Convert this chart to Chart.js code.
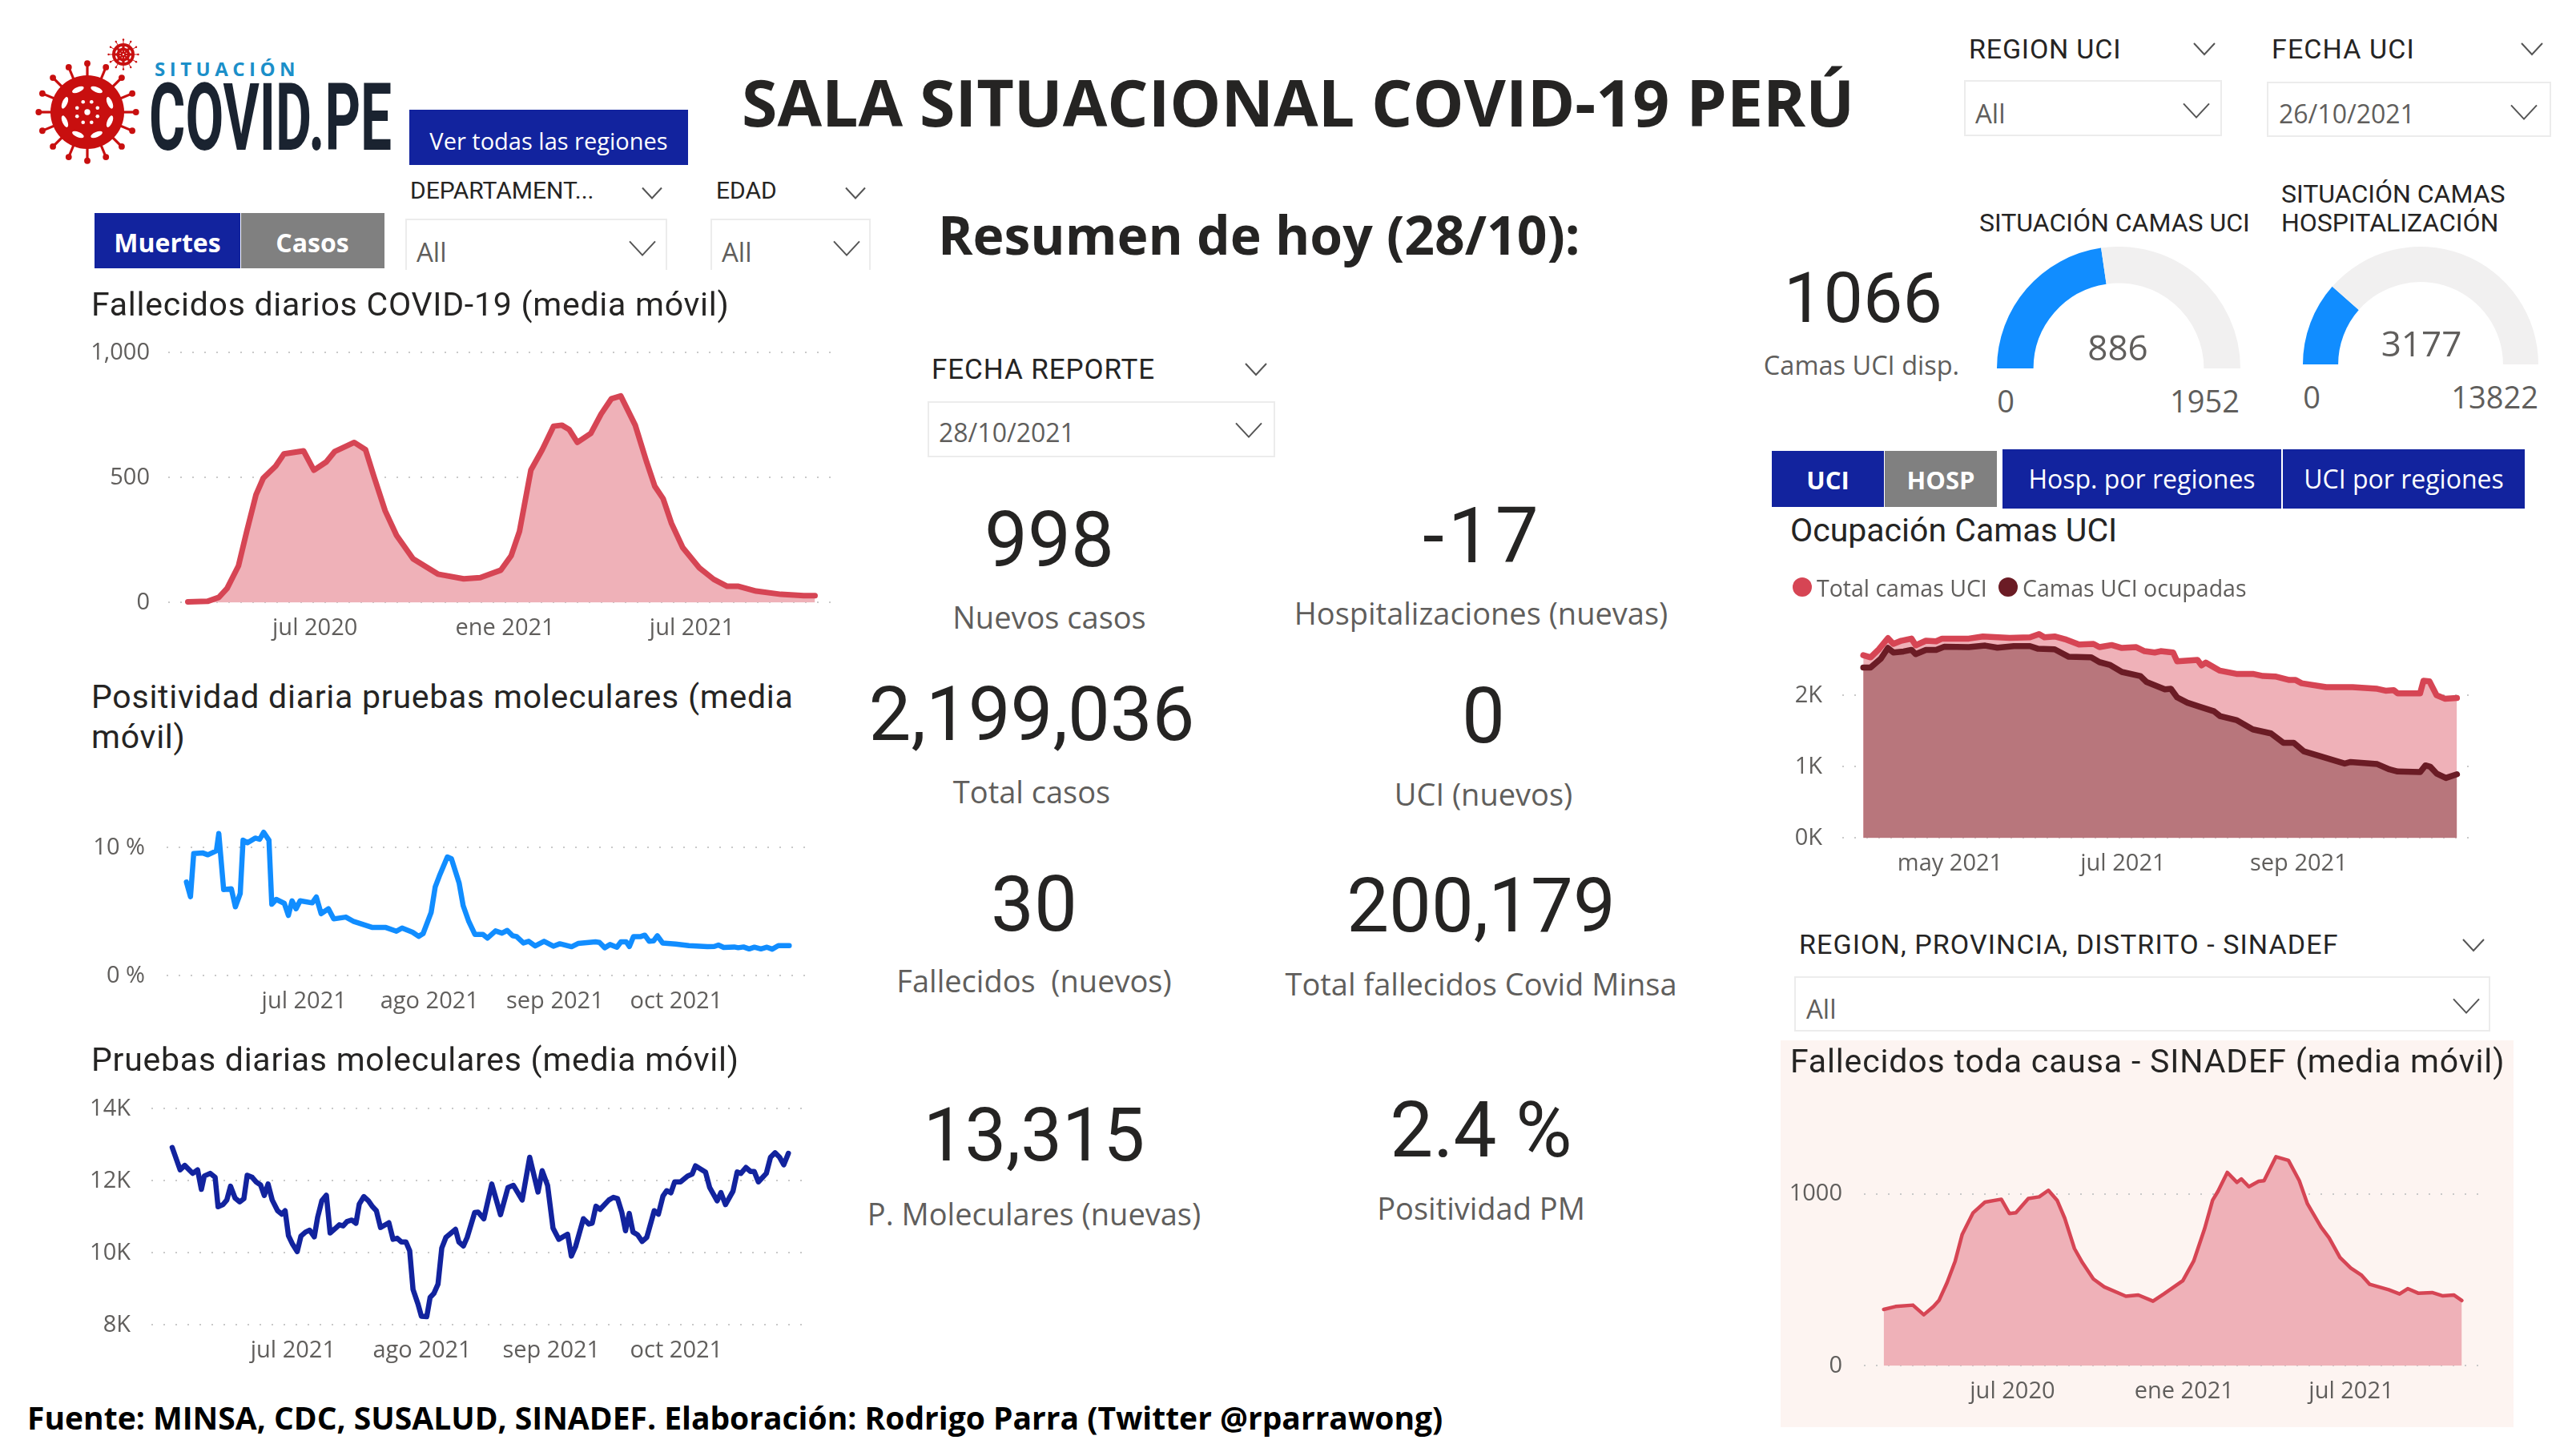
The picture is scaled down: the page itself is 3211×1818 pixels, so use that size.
<!DOCTYPE html>
<html lang="es">
<head>
<meta charset="utf-8">
<title>Sala situacional COVID-19 Perú</title>
<script src="https://cdn.jsdelivr.net/npm/chart.js@4/dist/chart.umd.js"></script>
<style>
  html, body { margin: 0; padding: 0; background: #fff; }
  #page { position: relative; width: 3211px; height: 1818px; overflow: hidden; background: #fff; }
  #page canvas { position: absolute; }
  .t { position: absolute; white-space: pre; line-height: 1; }
  .din { font-family: Roboto, sans-serif; color: #252423; }
  .seg { font-family: "Open Sans", sans-serif; color: #605e5c; }
  .head { font-family: "Open Sans", sans-serif; font-weight: 700; color: #252423; }
  .rect { position: absolute; }
  .slicer { position: absolute; border: 2px solid #ececec; box-sizing: border-box; }
  #pink { position: absolute; left: 2223px; top: 1299px; width: 915px; height: 483px; background: #fdf4f1; }
  #marks { position: absolute; left: 0; top: 0; }
</style>
</head>
<body>
<div id="page">
  <div id="pink"></div>
  <svg id="marks" width="3211" height="1818"></svg>
</div>
<script>
// deaths per day, x in days counted from the left end of the axis
const deathDays = [19,38,49,57,68,76,85,92,104,112,131,141,153,161,180,191,199,210,221,237,261,286,302,322,332,340,351,362,373,381,388,396,409,419,429,438,452,463,471,479,487,498,514,528,541,552,569,593,609,615,626];
const deathValues = [3,5,21,57,147,285,432,498,546,595,607,530,563,604,641,612,506,367,269,175,114,95,100,130,188,285,530,612,706,710,693,641,677,755,816,827,710,563,465,416,318,220,139,93,65,65,46,33,29,28,28];
const deathTickDays = [142,326,507];
const deathTickLabels = ['jul 2020','ene 2021','jul 2021'];
const deathYTicks = [0,500,1000];
const deathYLabels = ['0','500','1,000'];

// positivity of molecular tests, in percent
const posDays = [4.9,5.9,6.7,9,10.2,12.3,12.9,14.1,16,17,18.2,18.9,20,21.9,23,24,25.3,26,27.1,29.1,30.1,31,32,33,36,37,38.2,40,41.3,44.3,46.3,50.9,54.2,56.8,58.2,60.8,62.3,63.4,65.4,66.4,67.4,69.4,70.4,72.3,73.3,74.7,76.2,78.2,79.3,81.3,82.9,84.2,85.5,86.5,88.2,89.5,91.1,93.3,95.6,97.2,100.1,101.7,106,107,108.3,109.6,111.3,112.3,113.6,114.4,115.4,117.2,118.2,119.3,120.4,121.3,122.6,125.8,129.1,133.7,135.4,136.4,137.7,140.3,141.3,142.6,144,145.3,146.9,148.4,149.7,151.2,153.9];
const posValues = [7.31,6.17,9.54,9.58,9.44,9.75,11.1,6.73,6.79,5.38,6.42,10.58,10.38,10.75,10.65,11.2,10.58,5.58,5.96,5.65,4.71,5.85,5.23,5.85,5.69,6.15,4.85,5.23,4.44,4.58,4.23,3.77,3.77,3.48,3.73,3.4,3.08,3.29,4.96,6.94,7.77,9.27,9.13,7.25,5.48,4.23,3.23,3.23,2.94,3.5,3.33,3.54,3.13,3.06,2.56,2.69,2.33,2.69,2.31,2.5,2.27,2.52,2.65,2.6,2.19,2.44,2.23,2.65,2.65,2.29,3.06,3.06,3.17,2.69,2.73,3.13,2.56,2.48,2.35,2.27,2.29,2.4,2.21,2.25,2.19,2.25,2.1,2.23,2.1,2.23,2.08,2.35,2.35];
const posTickDays = [34,65,96,126];
const posTickLabels = ['jul 2021','ago 2021','sep 2021','oct 2021'];
const posYTicks = [0,10];
const posYLabels = ['0 %','10 %'];

// molecular tests per day
const testDays = [5,6.9,8,9.9,11.1,12,12.7,14.1,15.3,16,17.2,18.1,19,20.1,21.2,22.2,23,24.2,25.2,26.2,27.1,28,29,30.3,31.3,32.1,32.9,33.8,35,35.9,37,38,39.1,39.9,40.9,42,42.9,44.1,45.1,46,47,48.1,49.1,49.9,51,52.1,53.1,54,55,57,58,59,60,61.1,62,62.8,64,64.8,66.1,66.9,67.8,68.8,69.7,70.7,73,73.8,74.9,75.8,77.6,78.4,79.8,81.7,83.8,85.6,86.9,89,90.8,92.8,93.8,95.1,96.4,97.8,99.9,100.8,101.8,103.7,105,105.8,106.7,107.7,109.8,110.9,111.9,112.9,113.8,114.7,115.6,116.7,117.8,118.9,120.7,121.7,122.8,123.7,124.7,125.6,127,128.7,129.8,130.6,133,134,135.8,136.7,137.8,139.6,140.6,141.5,142.7,143.8,144.7,145.7,147.6,148.6,149.7,150.8,151.8,152.9];
const testValues = [12926,12303,12429,12207,12303,11763,12133,12207,12096,11281,11341,11467,11852,11518,11415,11504,12155,12096,11963,11889,11592,11911,11467,11170,11074,11170,10481,10259,10037,10467,10578,10630,10444,10985,11444,11600,10555,10674,10778,10748,10874,10911,10822,11355,11563,11444,11281,11170,10704,10837,10378,10407,10304,10304,10059,8985,8578,8244,8230,8763,8874,9133,10133,10430,10652,10304,10193,10430,11119,11133,10948,11911,11059,11815,11874,11467,12652,11689,12281,11874,10689,10378,10519,9911,10170,10948,10800,10822,11296,11207,11467,11541,11504,11133,10615,11096,10578,10504,10318,10430,11170,11074,11578,11726,11667,11970,11970,12133,12185,12415,12244,11815,11444,11674,11341,11711,12244,12207,12370,12259,12259,11970,12207,12652,12778,12652,12444,12763];
const testTickDays = [34,65,96,126];
const testTickLabels = ['jul 2021','ago 2021','sep 2021','oct 2021'];
const testYTicks = [8000,10000,12000,14000];
const testYLabels = ['8K','10K','12K','14K'];

// ICU beds
const bedTotalDays = [7.4,10,12.9,16.1,18,20.8,24.4,25.9,29.5,33.1,35.2,44.6,49.6,59,66.2,69.4,71.3,74.9,78.5,83.5,88.6,90.7,95,98.6,103.7,106.6,110.2,112.3,116.7,118.1,125.3,126.7,128.2,133.2,139,144.8,148.4,152.7,157.7,159.9,162,170.7,180,188.7,191.6,194.5,195.9,203.8,205,207.1,209.6,212.5,216.8];
const bedTotalValues = [2565,2535,2648,2805,2723,2768,2798,2704,2768,2760,2798,2798,2828,2809,2816,2861,2816,2828,2790,2715,2723,2678,2708,2667,2678,2622,2603,2622,2603,2479,2498,2423,2461,2348,2303,2303,2273,2266,2217,2217,2172,2116,2116,2094,2067,2075,2030,2030,2206,2198,2004,1955,1966];
const bedUsedDays = [7.4,10,13.6,16.1,18,21.6,24.4,25.9,29.5,33.1,36,44.6,50.4,54.7,60.5,66.2,69.1,74.9,79.9,87.8,90.7,94.3,98.6,105.1,107.3,113.8,115.9,118.1,121.7,126,131.1,133.2,139,144.8,151.2,155.6,159.2,162.8,168.5,177.2,179.3,188.7,193,195.9,203.8,205.7,207.4,209.6,212.9,216.8];
const bedUsedValues = [2393,2393,2517,2667,2603,2618,2640,2580,2640,2640,2685,2678,2700,2670,2693,2693,2655,2648,2543,2535,2468,2431,2330,2273,2191,2086,2094,1974,1899,1843,1779,1712,1655,1524,1468,1337,1337,1217,1150,1045,1067,1037,963,933,925,1019,1000,906,843,895];
const bedTickDays = [38,99,161];
const bedTickLabels = ['may 2021','jul 2021','sep 2021'];
const bedYTicks = [0,1000,2000];
const bedYLabels = ['0K','1K','2K'];

// all cause deaths (SINADEF)
const sinadefDays = [21.3,34.1,52.8,64.5,75,80.8,89.6,98.3,105.9,117.6,130.4,148,156.7,163.7,177.1,188.8,198.7,208.1,216.3,226.8,235.5,247.2,258.9,282.2,295.6,311.4,323.1,343.5,355.2,366.9,375.6,381.4,391.4,401.9,406.6,414.7,425.2,431,443.9,457.3,469,477.8,492.4,501.1,512.8,524.5,536.2,544.9,565.3,577,585.8,597.5,612.1,623.7,635.4,644.1];
const sinadefValues = [328,345,353,297,345,380,484,609,765,890,952,969,886,890,973,983,1021,963,859,682,599,505,459,405,412,376,418,495,609,796,963,1015,1125,1067,1087,1042,1073,1077,1216,1195,1077,942,807,744,630,568,526,474,443,418,449,422,426,407,412,380];
const sinadefTickDays = [160,345,525];
const sinadefTickLabels = ['jul 2020','ene 2021','jul 2021'];
const sinadefYTicks = [0,1000];
const sinadefYLabels = ['0','1000'];

// gauges
const icuGaugeValue = 886, icuGaugeMax = 1952;
const hospGaugeValue = 3177, hospGaugeMax = 13822;

const RED = '#d64554', RED_FILL = '#efb1b8', DARK = '#6b1c25', DARK_FILL = '#b8767c', BLUE = '#118dff', NAVY = '#12239e';

Chart.defaults.font.family = '"Open Sans", sans-serif';
Chart.defaults.font.size = 29;
Chart.defaults.color = '#605e5c';
Chart.defaults.animation = false;
Chart.defaults.responsive = false;

const page = document.getElementById('page');
const marks = document.getElementById('marks');

function zip(days, values) {
  return days.map((d, i) => ({ x: d, y: values[i] }));
}

function series(days, values, color, width, fill) {
  return {
    data: zip(days, values),
    borderColor: color,
    borderWidth: width,
    backgroundColor: fill || 'transparent',
    fill: fill ? 'origin' : false,
    pointRadius: 0,
    tension: 0,
    borderCapStyle: 'round',
    borderJoinStyle: 'round',
    clip: false
  };
}

// box = the plot area on the page, the canvas is made larger to hold the axes
function lineChart(box, datasets, x, y, yPad) {
  const axisW = 100, axisH = 50, pad = 24;
  const c = document.createElement('canvas');
  const w = box.right - box.left + axisW + pad;
  const h = box.bottom - box.top + axisH + pad;
  c.width = w;
  c.height = h;
  page.appendChild(c);
  const chart = new Chart(c, {
    type: 'line',
    data: { datasets: datasets },
    options: {
      maintainAspectRatio: false,
      layout: { padding: { top: pad, right: pad, left: 0, bottom: 0 } },
      plugins: { legend: { display: false }, tooltip: { enabled: false } },
      scales: {
        x: {
          type: 'linear',
          min: 0,
          max: x.max,
          grid: { display: false },
          border: { display: false },
          afterBuildTicks: s => { s.ticks = x.ticks.map(v => ({ value: v })); },
          afterFit: s => { s.height = axisH; },
          ticks: {
            autoSkip: false,
            maxRotation: 0,
            padding: 7,
            callback: v => x.labels[x.ticks.indexOf(v)]
          }
        },
        y: {
          type: 'linear',
          min: y.min,
          max: y.max,
          grid: { color: '#c9c9c9', lineWidth: 2, drawTicks: false },
          border: { display: false, dash: [2, 13] },
          afterBuildTicks: s => { s.ticks = y.ticks.map(v => ({ value: v })); },
          afterFit: s => { s.width = axisW; },
          ticks: {
            autoSkip: false,
            padding: yPad,
            callback: v => y.labels[y.ticks.indexOf(v)]
          }
        }
      }
    }
  });
  // the layout keeps some room for half a tick label, grow the canvas by what it took
  const a = chart.chartArea;
  chart.resize(w + (box.right - box.left) - (a.right - a.left), h + (box.bottom - box.top) - (a.bottom - a.top));
  c.style.position = 'absolute';
  c.style.left = (box.left - chart.chartArea.left) + 'px';
  c.style.top = (box.top - chart.chartArea.top) + 'px';
}

function gauge(left, top, radius, value, max) {
  const c = document.createElement('canvas');
  c.width = radius * 2;
  c.height = radius;
  c.style.left = left + 'px';
  c.style.top = top + 'px';
  page.appendChild(c);
  new Chart(c, {
    type: 'doughnut',
    data: { datasets: [{ data: [value, max - value], backgroundColor: [BLUE, '#f1f0f0'], borderWidth: 0 }] },
    options: {
      rotation: -90,
      circumference: 180,
      cutout: '70%',
      plugins: { legend: { display: false }, tooltip: { enabled: false } }
    }
  });
}

lineChart({ left: 210, right: 1042, top: 440, bottom: 752 },
  [series(deathDays, deathValues, RED, 7, RED_FILL)],
  { max: 645, ticks: deathTickDays, labels: deathTickLabels },
  { min: 0, max: 1000, ticks: deathYTicks, labels: deathYLabels }, 23);

lineChart({ left: 208, right: 1005, top: 1026, bottom: 1218 },
  [series(posDays, posValues, BLUE, 6.5)],
  { max: 157.8, ticks: posTickDays, labels: posTickLabels },
  { min: 0, max: 12, ticks: posYTicks, labels: posYLabels }, 27);

lineChart({ left: 189, right: 1003, top: 1384, bottom: 1654 },
  [series(testDays, testValues, NAVY, 6.5)],
  { max: 156.5, ticks: testTickDays, labels: testTickLabels },
  { min: 8000, max: 14000, ticks: testYTicks, labels: testYLabels }, 26);

lineChart({ left: 2300, right: 3084, top: 779, bottom: 1046 },
  [series(bedUsedDays, bedUsedValues, DARK, 7.5, DARK_FILL), series(bedTotalDays, bedTotalValues, RED, 7.5, RED_FILL)],
  { max: 221.5, ticks: bedTickDays, labels: bedTickLabels },
  { min: 0, max: 3000, ticks: bedYTicks, labels: bedYLabels }, 25);

lineChart({ left: 2327, right: 3094, top: 1383, bottom: 1705 },
  [series(sinadefDays, sinadefValues, RED, 4.5, RED_FILL)],
  { max: 661.8, ticks: sinadefTickDays, labels: sinadefTickLabels },
  { min: 0, max: 1500, ticks: sinadefYTicks, labels: sinadefYLabels }, 27);

gauge(2493, 308, 152, icuGaugeValue, icuGaugeMax);
gauge(2875, 308, 147, hospGaugeValue, hospGaugeMax);

// text: x is the left edge, or the centre with align 'c'. y is the vertical centre.
function text(str, x, y, cls, size, opts) {
  opts = opts || {};
  const el = document.createElement('div');
  el.className = 't ' + cls;
  el.textContent = str;
  el.style.left = x + 'px';
  el.style.top = y + 'px';
  el.style.fontSize = size + 'px';
  let tf = 'translateY(-50%)';
  if (opts.align === 'c') tf = 'translate(-50%,-50%)';
  if (opts.align === 'r') tf = 'translate(-100%,-50%)';
  if (opts.squeeze) {
    el.style.transformOrigin = 'left center';
    tf += ' scaleX(' + opts.squeeze + ')';
  }
  el.style.transform = tf;
  if (opts.color) el.style.color = opts.color;
  if (opts.weight) el.style.fontWeight = opts.weight;
  if (opts.spacing) el.style.letterSpacing = opts.spacing + 'px';
  page.appendChild(el);
}

function rect(x, y, w, h, color, round) {
  const el = document.createElement('div');
  el.className = 'rect';
  el.style.cssText = 'left:' + x + 'px;top:' + y + 'px;width:' + w + 'px;height:' + h + 'px;background:' + color + (round ? ';border-radius:50%' : '');
  page.appendChild(el);
}

function slicer(x, y, w, h, noBottom) {
  const el = document.createElement('div');
  el.className = 'slicer';
  el.style.cssText = 'left:' + x + 'px;top:' + y + 'px;width:' + w + 'px;height:' + h + 'px;' + (noBottom ? 'border-bottom:0' : '');
  page.appendChild(el);
}

function chevron(x, y, w) {
  const h = w * 0.54;
  const p = document.createElementNS('http://www.w3.org/2000/svg', 'polyline');
  p.setAttribute('points', (x - w / 2) + ',' + (y - h / 2) + ' ' + x + ',' + (y + h / 2) + ' ' + (x + w / 2) + ',' + (y - h / 2));
  p.setAttribute('fill', 'none');
  p.setAttribute('stroke', '#555');
  p.setAttribute('stroke-width', 2);
  marks.appendChild(p);
}

// header
text('SALA SITUACIONAL COVID-19 PERÚ', 926, 127, 'head', 80.6);
text('Resumen de hoy (28/10):', 1171, 292, 'head', 66);
text('Fuente: MINSA, CDC, SUSALUD, SINADEF. Elaboración: Rodrigo Parra (Twitter @rparrawong)', 34, 1769, 'head', 39, { color: '#000' });

// logo
function virus(cx, cy, r, spikes) {
  const ns = 'http://www.w3.org/2000/svg';
  const g = document.createElementNS(ns, 'g');
  const add = (tag, attrs) => {
    const n = document.createElementNS(ns, tag);
    for (const k in attrs) n.setAttribute(k, attrs[k]);
    g.appendChild(n);
  };
  for (let i = 0; i < spikes; i++) {
    const a = i * 2 * Math.PI / spikes;
    const cs = Math.cos(a), sn = Math.sin(a);
    add('line', { x1: cx + r * 0.7 * cs, y1: cy + r * 0.7 * sn, x2: cx + r * 1.3 * cs, y2: cy + r * 1.3 * sn, stroke: '#c80f0f', 'stroke-width': r * 0.07 });
    add('circle', { cx: cx + r * 1.32 * cs, cy: cy + r * 1.32 * sn, r: r * 0.085, fill: '#c80f0f' });
  }
  add('circle', { cx: cx, cy: cy, r: r, fill: '#c80f0f' });
  for (let i = 0; i < 8; i++) {
    const a = i * Math.PI / 4 + Math.PI / 8;
    const px = cx + r * 0.66 * Math.cos(a), py = cy + r * 0.66 * Math.sin(a);
    add('ellipse', { cx: px, cy: py, rx: r * 0.17, ry: r * 0.07, fill: '#fff', transform: 'rotate(' + (a * 180 / Math.PI + 90) + ' ' + px + ' ' + py + ')' });
    const qx = cx + r * 0.3 * Math.cos(a), qy = cy + r * 0.3 * Math.sin(a);
    add('circle', { cx: qx, cy: qy, r: r * 0.05, fill: '#fff' });
  }
  add('circle', { cx: cx, cy: cy, r: r * 0.08, fill: '#fff' });
  marks.appendChild(g);
}
virus(109, 140, 46, 16);
virus(154, 68, 14, 12);
text('SITUACIÓN', 193, 86, 'seg', 24, { color: '#1b8fc9', weight: 700, spacing: 5.5 });
text('COVID.PE', 186, 147, 'din', 117, { color: '#1a2330', weight: 700, squeeze: 0.593 });

// left buttons and slicers
rect(511, 137, 348, 69, NAVY);
text('Ver todas las regiones', 685, 175, 'seg', 29, { align: 'c', color: '#fff' });
rect(118, 266, 182, 69, NAVY);
rect(301, 266, 179, 69, '#808080');
text('Muertes', 209, 303, 'seg', 32, { align: 'c', color: '#fff', weight: 700 });
text('Casos', 390, 303, 'seg', 32, { align: 'c', color: '#fff', weight: 700 });
text('DEPARTAMENT...', 512, 238, 'din', 30);
chevron(814, 241, 24);
slicer(506, 273, 327, 64, true);
text('All', 520, 314, 'seg', 33);
chevron(802, 310, 32);
text('EDAD', 894, 238, 'din', 30);
chevron(1068, 241, 24);
slicer(887, 273, 200, 64, true);
text('All', 901, 314, 'seg', 33);
chevron(1057, 310, 32);

// chart titles
text('Fallecidos diarios COVID-19 (media móvil)', 114, 380, 'din', 41, { spacing: 0.75 });
text('Positividad diaria pruebas moleculares (media', 114, 870, 'din', 41, { spacing: 0.75 });
text('móvil)', 114, 920, 'din', 41, { spacing: 0.75 });
text('Pruebas diarias moleculares (media móvil)', 114, 1323, 'din', 41, { spacing: 0.75 });
text('Ocupación Camas UCI', 2235, 662, 'din', 41);
text('Fallecidos toda causa - SINADEF (media móvil)', 2235, 1325, 'din', 41, { spacing: 0.85 });

// summary cards
text('FECHA REPORTE', 1163, 461, 'din', 35, { spacing: 0.9 });
chevron(1568, 461, 26);
slicer(1158, 501, 434, 70);
text('28/10/2021', 1172, 540, 'seg', 32);
chevron(1559, 537, 32);

text('998', 1310, 674, 'din', 96, { align: 'c' });
text('Nuevos casos', 1310, 770, 'seg', 38, { align: 'c' });
text('-17', 1851, 669, 'din', 96, { align: 'c', spacing: 5 });
text('Hospitalizaciones (nuevas)', 1849, 765, 'seg', 38, { align: 'c' });
text('2,199,036', 1288, 892, 'din', 94, { align: 'c' });
text('Total casos', 1288, 988, 'seg', 38, { align: 'c' });
text('0', 1852, 894, 'din', 96, { align: 'c' });
text('UCI (nuevos)', 1852, 991, 'seg', 38, { align: 'c' });
text('30', 1291, 1129, 'din', 96, { align: 'c' });
text('Fallecidos  (nuevos)', 1291, 1224, 'seg', 38, { align: 'c' });
text('200,179', 1849, 1131, 'din', 94, { align: 'c' });
text('Total fallecidos Covid Minsa', 1849, 1228, 'seg', 38, { align: 'c' });
text('13,315', 1291, 1418, 'din', 92, { align: 'c' });
text('P. Moleculares (nuevas)', 1291, 1515, 'seg', 38, { align: 'c' });
text('2.4 %', 1849, 1411, 'din', 96, { align: 'c' });
text('Positividad PM', 1849, 1508, 'seg', 38, { align: 'c' });

// right slicers
text('REGION UCI', 2458, 61, 'din', 34, { spacing: 0.8 });
chevron(2752, 61, 26);
slicer(2452, 100, 322, 70);
text('All', 2466, 141, 'seg', 33);
chevron(2742, 138, 32);
text('FECHA UCI', 2836, 61, 'din', 34, { spacing: 1.1 });
chevron(3161, 61, 26);
slicer(2830, 102, 355, 69);
text('26/10/2021', 2845, 142, 'seg', 32);
chevron(3151, 140, 32);

// gauges text
text('SITUACIÓN CAMAS UCI', 2471, 278, 'din', 32);
text('SITUACIÓN CAMAS', 2848, 242, 'din', 32);
text('HOSPITALIZACIÓN', 2848, 278, 'din', 32);
text('1066', 2326, 372, 'din', 88, { align: 'c' });
text('Camas UCI disp.', 2324, 456, 'seg', 32.5, { align: 'c' });
text('886', 2644, 433, 'seg', 44, { align: 'c' });
text('0', 2504, 500, 'seg', 38, { align: 'c' });
text('1952', 2796, 500, 'seg', 38, { align: 'r' });
text('3177', 3023, 428, 'seg', 44, { align: 'c' });
text('0', 2886, 495, 'seg', 38, { align: 'c' });
text('13822', 3169, 495, 'seg', 38, { align: 'r' });

// tabs
rect(2212, 563, 140, 70, NAVY);
rect(2353, 563, 140, 70, '#808080');
rect(2500, 561, 348, 74, NAVY);
rect(2850, 561, 302, 74, NAVY);
text('UCI', 2282, 599, 'seg', 31, { align: 'c', color: '#fff', weight: 700 });
text('HOSP', 2423, 599, 'seg', 31, { align: 'c', color: '#fff', weight: 700 });
text('Hosp. por regiones', 2674, 598, 'seg', 32, { align: 'c', color: '#fff' });
text('UCI por regiones', 3001, 598, 'seg', 32, { align: 'c', color: '#fff' });

// ICU legend
rect(2238, 721, 24, 24, RED, true);
rect(2495, 721, 24, 24, DARK, true);
text('Total camas UCI', 2268, 734, 'seg', 28.5);
text('Camas UCI ocupadas', 2525, 734, 'seg', 28.5);

// SINADEF slicer
text('REGION, PROVINCIA, DISTRITO - SINADEF', 2246, 1179, 'din', 34, { spacing: 1.1 });
chevron(3088, 1180, 26);
slicer(2240, 1219, 869, 69);
text('All', 2255, 1259, 'seg', 33);
chevron(3079, 1256, 32);
</script>
</body>
</html>
